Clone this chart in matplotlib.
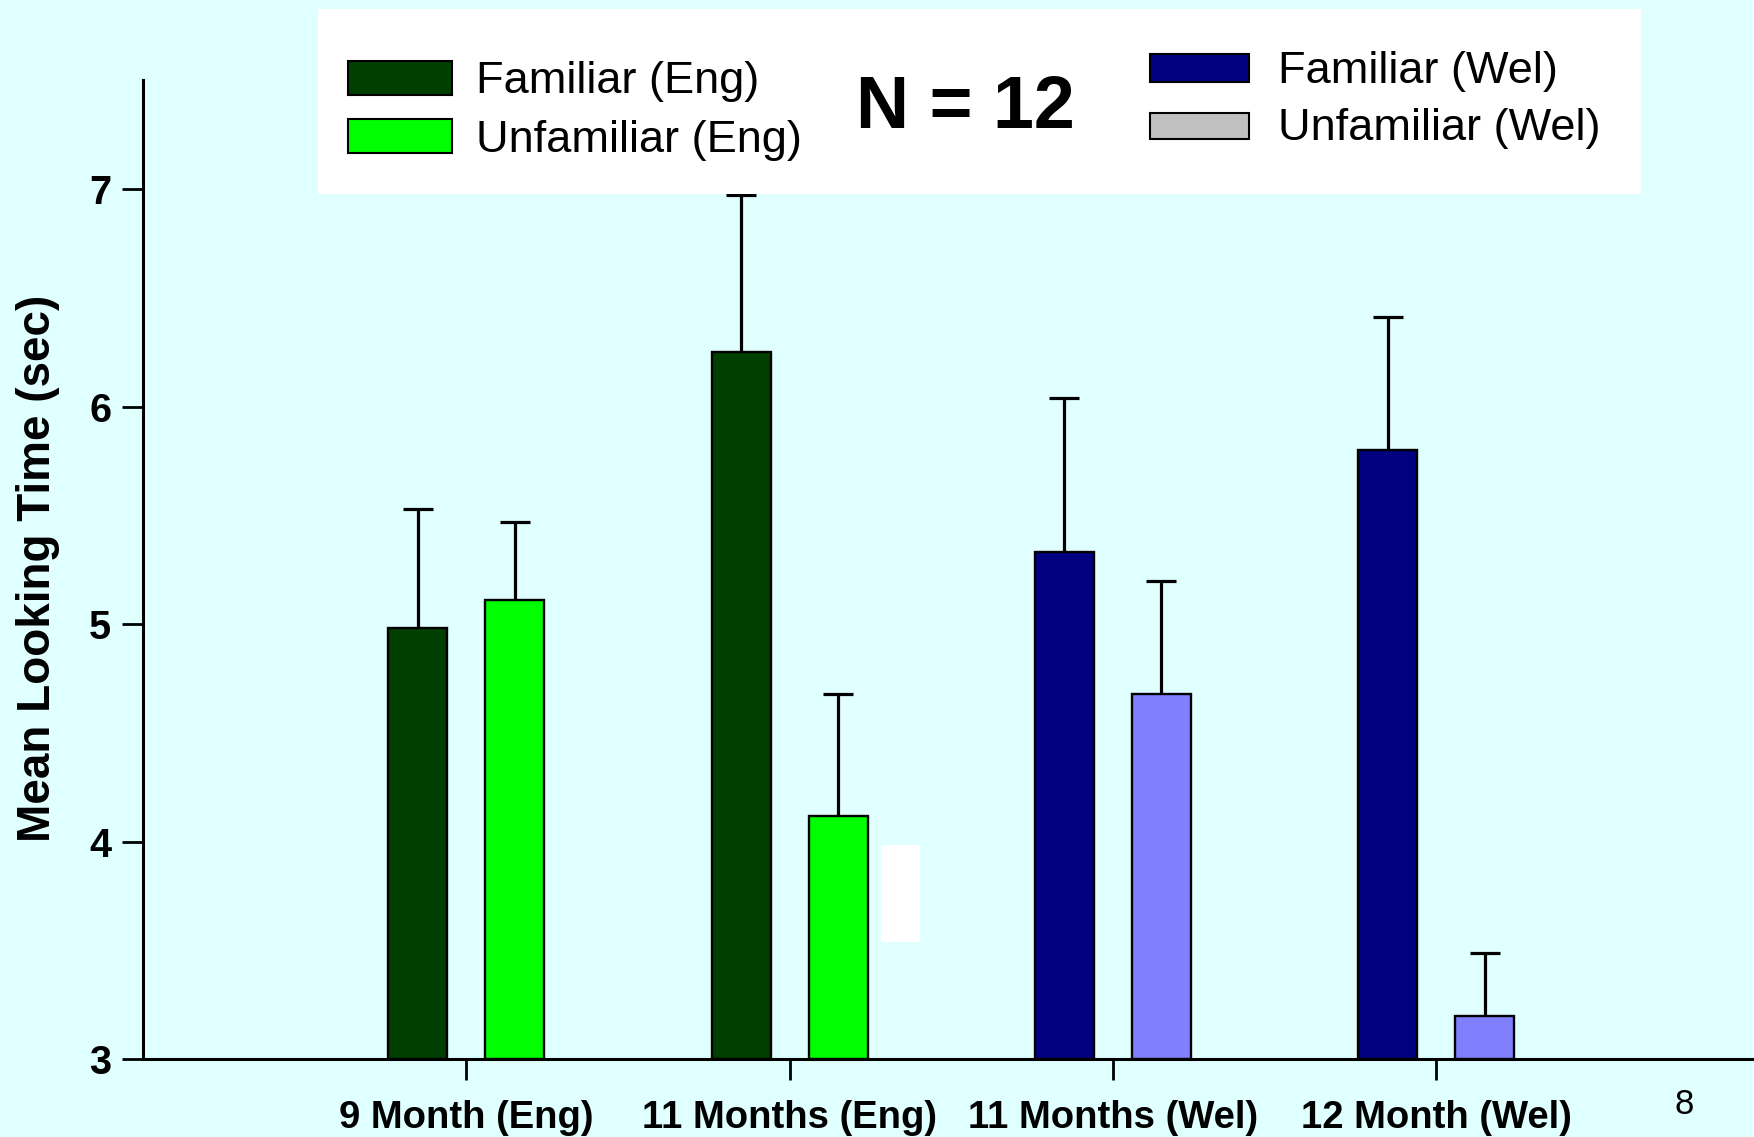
import matplotlib
matplotlib.use("Agg")
import matplotlib.pyplot as plt
from matplotlib.patches import Rectangle
import numpy as np

plt.rcParams["font.family"] = ["Liberation Sans", "DejaVu Sans"]

# ---- data -------------------------------------------------------------
groups = ["9 Month (Eng)", "11 Months (Eng)", "11 Months (Wel)", "12 Month (Wel)"]
familiar = [4.98, 6.25, 5.33, 5.80]
familiar_err = [0.55, 0.72, 0.71, 0.61]
unfamiliar = [5.11, 4.12, 4.68, 3.20]
unfamiliar_err = [0.36, 0.56, 0.52, 0.29]

fam_colors = ["#003F00", "#003F00", "#000080", "#000080"]
unfam_colors = ["#00FF00", "#00FF00", "#8080FF", "#8080FF"]

legend_left = [("Familiar (Eng)", "#003F00"), ("Unfamiliar (Eng)", "#00FF00")]
legend_right = [("Familiar (Wel)", "#000080"), ("Unfamiliar (Wel)", "#C0C0C0")]

y_ticks = [3, 4, 5, 6, 7]
bg = "#E0FFFF"

# ---- figure -----------------------------------------------------------
W, H = 1754, 1137
fig = plt.figure(figsize=(W / 100, H / 100), dpi=100, facecolor=bg)


def fx(px):
    return px / W


def fy(py):
    return 1 - py / H


ax = fig.add_axes([143 / W, (H - 1059.3) / H, 5 * 323.3 / W, 4.5 * 217.6 / H])
ax.set_facecolor(bg)

x = np.arange(1, len(groups) + 1)
offset, width = 0.15, 0.182

ax.bar(x - offset, [v - 3 for v in familiar], width, bottom=3, color=fam_colors,
       edgecolor="black", linewidth=1.7, zorder=2)
ax.bar(x + offset, [v - 3 for v in unfamiliar], width, bottom=3, color=unfam_colors,
       edgecolor="black", linewidth=1.7, zorder=2)

for xs, vals, errs in [(x - offset, familiar, familiar_err),
                       (x + offset, unfamiliar, unfamiliar_err)]:
    _, caps, _ = ax.errorbar(xs, vals, yerr=[np.zeros(len(errs)), errs], fmt="none",
                             ecolor="black", elinewidth=2.3, capsize=10.8,
                             capthick=2.3, zorder=3)
    caps[0].set_visible(False)  # upper-only error bars

ax.set_xlim(0, 5)
ax.set_ylim(3, 7.5)
ax.set_xticks(x)
ax.set_xticklabels(groups, fontsize=27.5, fontweight="bold")
ax.set_yticks(y_ticks)
ax.set_yticklabels([str(t) for t in y_ticks], fontsize=28.5, fontweight="bold")
ax.tick_params(axis="x", direction="out", length=15, width=2, pad=14)
ax.tick_params(axis="y", direction="out", length=15, width=2, pad=8)

for s in ["top", "right"]:
    ax.spines[s].set_visible(False)
for s in ["left", "bottom"]:
    ax.spines[s].set_linewidth(2.2)
ax.spines["bottom"].set_clip_on(False)

fig.text(fx(38), fy(568.5), "Mean Looking Time (sec)", rotation=90, ha="center",
         va="center", fontsize=33, fontweight="bold")

# white patch over the plot area
fig.patches.append(Rectangle((fx(881), fy(941.5)), (920 - 881) / W, (941.5 - 845) / H,
                             transform=fig.transFigure, facecolor="white",
                             edgecolor="none", zorder=5))

# ---- legend panel -----------------------------------------------------
fig.patches.append(Rectangle((fx(318), fy(194)), (1641 - 318) / W, (194 - 9) / H,
                             transform=fig.transFigure, facecolor="white",
                             edgecolor="none", zorder=5))

left_boxes = [(60.7, 95.0, 93.3), (119.0, 152.7, 151.7)]
for (label, col), (top, bot, base) in zip(legend_left, left_boxes):
    fig.patches.append(Rectangle((fx(348), fy(bot)), (452 - 348) / W, (bot - top) / H,
                                 transform=fig.transFigure, facecolor=col,
                                 edgecolor="black", linewidth=1.5, zorder=6))
    fig.text(fx(476), fy(base), label, fontsize=32.5, ha="left", va="baseline", zorder=7)

right_boxes = [(54.0, 82.3, 83.3), (112.7, 139.0, 140.0)]
for (label, col), (top, bot, base) in zip(legend_right, right_boxes):
    fig.patches.append(Rectangle((fx(1150), fy(bot)), (1249 - 1150) / W, (bot - top) / H,
                                 transform=fig.transFigure, facecolor=col,
                                 edgecolor="black", linewidth=1.5, zorder=6))
    fig.text(fx(1278), fy(base), label, fontsize=32.5, ha="left", va="baseline", zorder=7)

fig.text(fx(965), fy(128.3), "N = 12", fontsize=53, fontweight="bold", ha="center",
         va="baseline", zorder=7)

fig.text(fx(1684), fy(1104), "8", fontsize=25, ha="center", va="center")

fig.savefig("out.png", dpi=100, facecolor=bg)
